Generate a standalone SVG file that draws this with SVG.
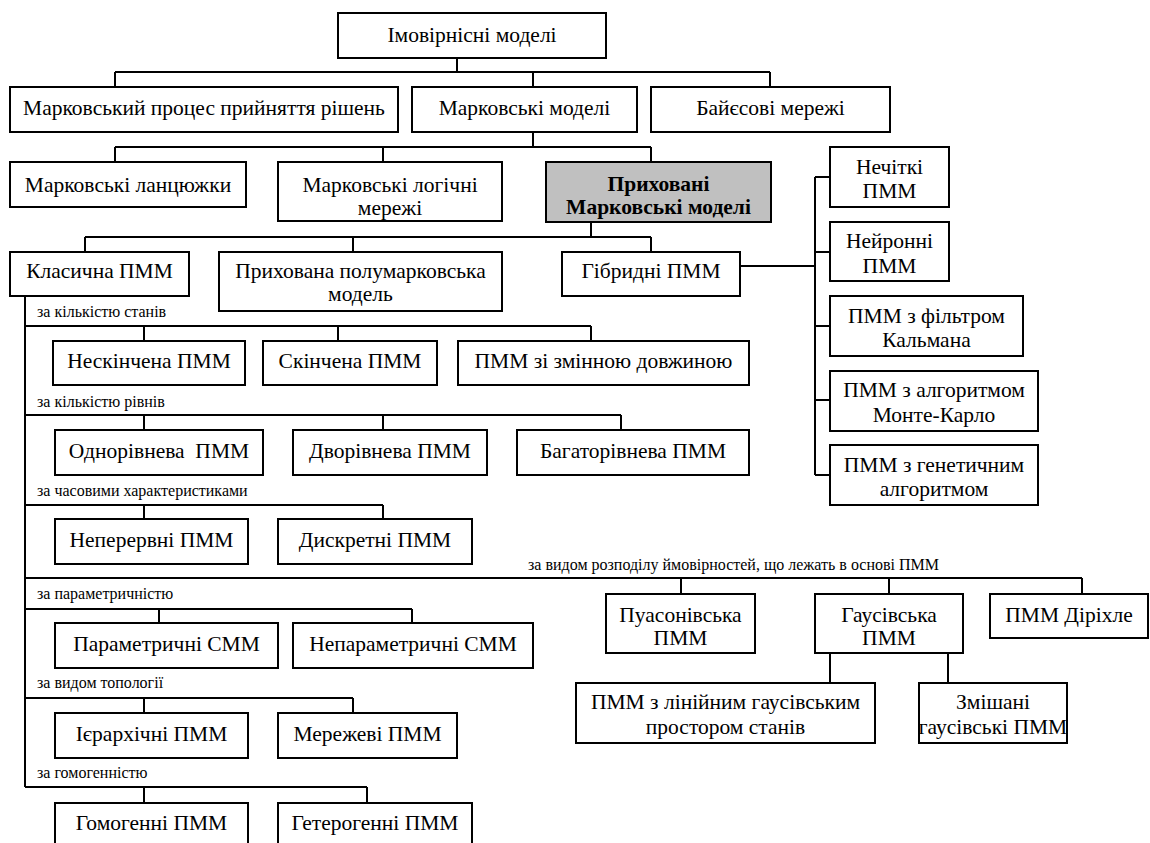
<svg xmlns="http://www.w3.org/2000/svg" width="1150" height="843" viewBox="0 0 1150 843">
<style>
.box{fill:#fff;stroke:#000;stroke-width:2}
.hl{fill:#c0c0c0}
.conn path{stroke:#000;stroke-width:2;fill:none}
text{font-family:"Times New Roman","Liberation Serif","DejaVu Serif",serif;font-size:21.5px;fill:#000;text-anchor:middle}
text.b{font-weight:bold;font-size:21.5px}
text.lbl{font-size:16px;text-anchor:start}
</style>
<rect width="1150" height="843" fill="#fff"/>
<g class="conn" id="connectors">
<path d="M457,58V72M115,72H770M115,72V87M533,72V87M770,72V87"/>
<path d="M533,132V147M115,147H651M115,147V162M383,147V162M651,147V162"/>
<path d="M591,222V237M85,237H651M85,237V252M353,237V252M651,237V252"/>
<path d="M740,266H815M815,177V475M815,177H830M815,252H830M815,326H830M815,400H830M815,475H830"/>
<path d="M25,296V787"/>
<path d="M25,326H591M144,326V341M338,326V341M591,326V341"/>
<path d="M25,415H621M144,415V430M383,415V430M621,415V430"/>
<path d="M25,505H383M144,505V519M383,505V519"/>
<path d="M25,578H1082M681,578V594M889,578V594M1082,578V594"/>
<path d="M830,653V683M948,653V683"/>
<path d="M25,609H412M159,609V623M412,609V623"/>
<path d="M25,698H353M144,698V713M353,698V713"/>
<path d="M25,787H367M144,787V803M367,787V803"/>
</g>
<g id="labels">
<text class="lbl" x="37" y="317">за кількістю станів</text>
<text class="lbl" x="37" y="407">за кількістю рівнів</text>
<text class="lbl" x="37" y="496">за часовими характеристиками</text>
<text class="lbl" x="528" y="570">за видом розподілу ймовірностей, що лежать в основі ПММ</text>
<text class="lbl" x="37" y="599">за параметричністю</text>
<text class="lbl" x="37" y="688">за видом топології</text>
<text class="lbl" x="37" y="778">за гомогенністю</text>
</g>
<g id="n_imov"><rect class="box" x="338" y="13" width="268" height="45"/><text x="472" y="42">Імовірнісні моделі</text></g>
<g id="n_mdp"><rect class="box" x="10" y="87" width="388" height="45"/><text x="204" y="115">Марковський процес прийняття рішень</text></g>
<g id="n_mm"><rect class="box" x="412" y="87" width="225" height="45"/><text x="524.5" y="115">Марковські моделі</text></g>
<g id="n_bayes"><rect class="box" x="651" y="87" width="239" height="45"/><text x="770.5" y="115">Байєсові мережі</text></g>
<g id="n_chains"><rect class="box" x="10" y="162" width="236" height="45"/><text x="128" y="192">Марковські ланцюжки</text></g>
<g id="n_logic"><rect class="box" x="278" y="162" width="224" height="59"/><text x="390" y="192">Марковські логічні</text><text x="390" y="215">мережі</text></g>
<g id="n_hmm"><rect class="box hl" x="546" y="162" width="225" height="60"/><text class="b" x="658.5" y="191">Приховані</text><text class="b" x="658.5" y="214">Марковські моделі</text></g>
<g id="n_fuzzy"><rect class="box" x="830" y="147" width="119" height="60"/><text x="889.5" y="174">Нечіткі</text><text x="889.5" y="198">ПММ</text></g>
<g id="n_classic"><rect class="box" x="10" y="252" width="179" height="44"/><text x="99.5" y="278">Класична ПММ</text></g>
<g id="n_hsmm"><rect class="box" x="219" y="252" width="283" height="59"/><text x="360.5" y="278">Прихована полумарковська</text><text x="360.5" y="301">модель</text></g>
<g id="n_hybrid"><rect class="box" x="562" y="252" width="178" height="44"/><text x="651" y="278">Гібридні ПММ</text></g>
<g id="n_neural"><rect class="box" x="830" y="222" width="119" height="59"/><text x="889.5" y="248">Нейронні</text><text x="889.5" y="273">ПММ</text></g>
<g id="n_kalman"><rect class="box" x="830" y="296" width="193" height="60"/><text x="926.5" y="323">ПММ з фільтром</text><text x="926.5" y="347">Кальмана</text></g>
<g id="n_mc"><rect class="box" x="830" y="371" width="208" height="60"/><text x="934" y="397">ПММ з алгоритмом</text><text x="934" y="422">Монте-Карло</text></g>
<g id="n_gen"><rect class="box" x="830" y="445" width="208" height="60"/><text x="934" y="472">ПММ з генетичним</text><text x="934" y="496">алгоритмом</text></g>
<g id="n_inf"><rect class="box" x="53" y="341" width="192" height="44"/><text x="149" y="368">Нескінчена ПММ</text></g>
<g id="n_fin"><rect class="box" x="263" y="341" width="174" height="44"/><text x="350" y="368">Скінчена ПММ</text></g>
<g id="n_var"><rect class="box" x="458" y="341" width="291" height="44"/><text x="603.5" y="368">ПММ зі змінною довжиною</text></g>
<g id="n_one"><rect class="box" x="55" y="430" width="208" height="45"/><text x="159" y="458">Однорівнева&#160; ПММ</text></g>
<g id="n_two"><rect class="box" x="293" y="430" width="194" height="45"/><text x="390" y="458">Дворівнева ПММ</text></g>
<g id="n_multi"><rect class="box" x="517" y="430" width="232" height="45"/><text x="633" y="458">Багаторівнева ПММ</text></g>
<g id="n_cont"><rect class="box" x="55" y="519" width="193" height="45"/><text x="151.5" y="547">Неперервні ПММ</text></g>
<g id="n_disc"><rect class="box" x="278" y="519" width="194" height="45"/><text x="375" y="547">Дискретні ПММ</text></g>
<g id="n_poisson"><rect class="box" x="606" y="594" width="149" height="59"/><text x="680.5" y="622">Пуасонівська</text><text x="680.5" y="645">ПММ</text></g>
<g id="n_gauss"><rect class="box" x="815" y="594" width="148" height="59"/><text x="889" y="622">Гаусівська</text><text x="889" y="645">ПММ</text></g>
<g id="n_dirichlet"><rect class="box" x="990" y="594" width="158" height="44"/><text x="1069" y="622">ПММ Діріхле</text></g>
<g id="n_lin"><rect class="box" x="576" y="683" width="299" height="60"/><text x="725.5" y="709">ПММ з лінійним гаусівським</text><text x="725.5" y="734">простором станів</text></g>
<g id="n_mix"><rect class="box" x="919" y="683" width="148" height="60"/><text x="993" y="709">Змішані</text><text x="993" y="734">гаусівські ПММ</text></g>
<g id="n_par"><rect class="box" x="55" y="623" width="223" height="45"/><text x="166.5" y="651">Параметричні СММ</text></g>
<g id="n_npar"><rect class="box" x="293" y="623" width="240" height="45"/><text x="413" y="651">Непараметричні СММ</text></g>
<g id="n_hier"><rect class="box" x="55" y="713" width="193" height="45"/><text x="151.5" y="741">Ієрархічні ПММ</text></g>
<g id="n_net"><rect class="box" x="278" y="713" width="179" height="45"/><text x="367.5" y="741">Мережеві ПММ</text></g>
<g id="n_homo"><rect class="box" x="55" y="803" width="193" height="50"/><text x="151.5" y="830">Гомогенні ПММ</text></g>
<g id="n_het"><rect class="box" x="278" y="803" width="194" height="50"/><text x="375" y="830">Гетерогенні ПММ</text></g>
</svg>
